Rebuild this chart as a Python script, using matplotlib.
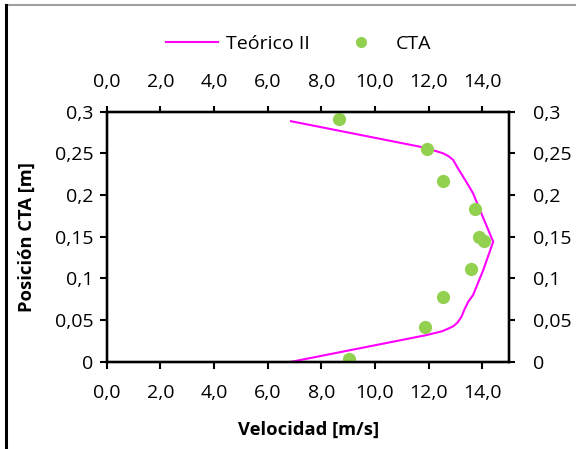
import matplotlib.pyplot as plt
from matplotlib.lines import Line2D

plt.rcParams['font.family'] = ['Open Sans', 'DejaVu Sans']

# perfil teórico II
teo_vel = [6.87, 11.68, 12.2, 12.55, 12.75, 12.92, 13.08, 13.29, 13.48, 13.66, 14.41,
           14.04, 13.66, 13.48, 13.33, 13.23, 13.08, 12.92, 12.72, 12.5, 11.93, 6.90]
teo_pos = [0.2886, 0.258, 0.2535, 0.250, 0.2465, 0.242, 0.233, 0.222, 0.212, 0.202, 0.144,
           0.110, 0.080, 0.072, 0.062, 0.054, 0.047, 0.0425, 0.0395, 0.0365, 0.032, 0.0]

# medidas CTA
cta_vel = [8.66, 11.94, 12.53, 13.74, 13.88, 14.05, 13.58, 12.54, 11.86, 9.03]
cta_pos = [0.291, 0.255, 0.217, 0.183, 0.150, 0.1445, 0.111, 0.0777, 0.0413, 0.0036]

x_ticks = [0, 2, 4, 6, 8, 10, 12, 14]
x_labels = [('%.1f' % v).replace('.', ',') for v in x_ticks]
y_ticks = [0, 0.05, 0.1, 0.15, 0.2, 0.25, 0.3]
y_labels = ['0', '0,05', '0,1', '0,15', '0,2', '0,25', '0,3']

FS = 14
MAGENTA = '#FF00FF'
VERDE = '#92D050'

fig = plt.figure(figsize=(5.76, 4.49), dpi=100)
ax = fig.add_axes([0.1852, 0.1944, 0.6985, 0.5568])

ax.plot(teo_vel, teo_pos, color=MAGENTA, lw=1.5, zorder=3)
ax.plot(cta_vel, cta_pos, 'o', color=VERDE, ms=9.5, mec='none', zorder=4)

ax.set_xlim(0, 15)
ax.set_ylim(0, 0.3)
ax.set_xticks(x_ticks)
ax.set_xticklabels(x_labels)
ax.set_yticks(y_ticks)
ax.set_yticklabels(y_labels)
ax.tick_params(axis='x', direction='out', length=5, width=1.5, labelsize=FS, pad=11)
ax.tick_params(axis='y', direction='out', length=5, width=1.5, labelsize=FS, pad=4.5)
for sp in ax.spines.values():
    sp.set_linewidth(1.6)

# eje superior (mismas marcas)
axt = ax.twiny()
axt.set_xlim(ax.get_xlim())
axt.set_xticks(x_ticks)
axt.set_xticklabels(x_labels)
axt.tick_params(axis='x', direction='out', length=4, width=1.5, labelsize=FS, pad=11)

# eje derecho (mismas marcas)
axr = ax.twinx()
axr.set_ylim(ax.get_ylim())
axr.set_yticks(y_ticks)
axr.set_yticklabels(y_labels)
axr.tick_params(axis='y', direction='out', length=4, width=1.5, labelsize=FS, pad=13)
for a in (axt, axr):
    for sp in a.spines.values():
        sp.set_linewidth(1.6)

fig.text(0.535, 1 - 430 / 449, 'Velocidad [m/s]', fontsize=13.2, fontweight='bold',
         ha='center', va='center')
fig.text(27 / 576, 1 - 237 / 449, 'Posición CTA [m]', fontsize=13.2, fontweight='bold',
         ha='center', va='center', rotation=90)

handles = [Line2D([], [], color=MAGENTA, lw=1.5),
           Line2D([], [], ls='none', marker='o', color=VERDE, ms=8, mec='none')]
fig.legend(handles, ['Teórico II', 'CTA'], loc='center', bbox_to_anchor=(0.518, 0.902),
           ncol=2, frameon=False, fontsize=FS, handlelength=2.7, columnspacing=1.3,
           handletextpad=0.4, borderpad=0)

# marco de la figura
fig.add_artist(Line2D([0.012, 1.0], [0.989, 0.989], color='#A0A0A0', lw=1.5))
fig.add_artist(Line2D([0.010, 0.010], [0.0, 0.989], color='black', lw=2.2))

fig.savefig('out.png', dpi=100)
